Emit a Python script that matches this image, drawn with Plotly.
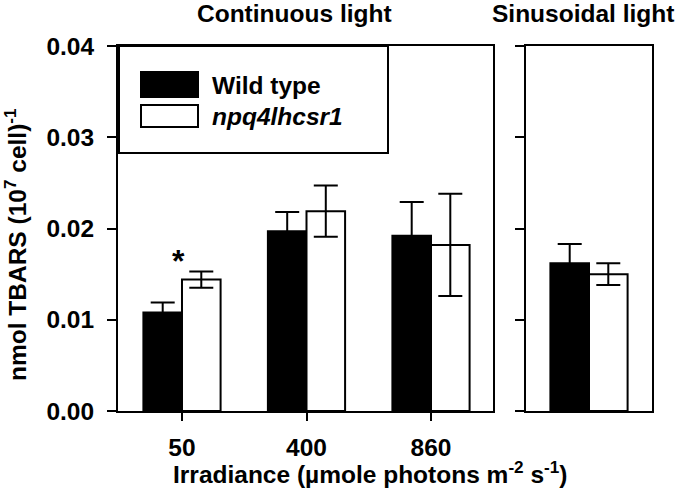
import plotly.graph_objects as go

# ---- data ----
categories = ["50", "400", "860"]
wt_vals = [0.0108, 0.0197, 0.0192]
wt_err = [0.0011, 0.0021, 0.0037]
mut_vals = [0.0144, 0.0219, 0.0182]
mut_err = [0.0009, 0.0028, 0.0056]
sin_wt_vals = [0.0162]
sin_wt_err = [0.0021]
sin_mut_vals = [0.0150]
sin_mut_err = [0.0012]
y_ticks = [0.00, 0.01, 0.02, 0.03, 0.04]
y_ticktext = ["0.00", "0.01", "0.02", "0.03", "0.04"]

W, H = 675, 499
PLOT_TOP, PLOT_BOT = 46, 411
MT = PLOT_TOP
MB = H - PLOT_BOT
PH = PLOT_BOT - PLOT_TOP

def px(x):
    return x / W

def py(y):
    return (PLOT_BOT - y) / PH

FONT = "Liberation Sans"
FS = 24.5
BW = 0.31
xpos = list(range(len(categories)))

fig = go.Figure()

err_style = dict(type="data", color="black", thickness=2, width=12)

fig.add_trace(go.Bar(x=xpos, y=wt_vals, width=BW, offset=-BW,
                     marker=dict(color="black", line=dict(color="black", width=2)),
                     error_y=dict(array=wt_err, **err_style),
                     xaxis="x", yaxis="y", showlegend=False))
fig.add_trace(go.Bar(x=xpos, y=mut_vals, width=BW, offset=0,
                     marker=dict(color="white", line=dict(color="black", width=2)),
                     error_y=dict(array=mut_err, **err_style),
                     xaxis="x", yaxis="y", showlegend=False))
fig.add_trace(go.Bar(x=[0], y=sin_wt_vals, width=BW, offset=-BW,
                     marker=dict(color="black", line=dict(color="black", width=2)),
                     error_y=dict(array=sin_wt_err, **err_style),
                     xaxis="x2", yaxis="y2", showlegend=False))
fig.add_trace(go.Bar(x=[0], y=sin_mut_vals, width=BW, offset=0,
                     marker=dict(color="white", line=dict(color="black", width=2)),
                     error_y=dict(array=sin_mut_err, **err_style),
                     xaxis="x2", yaxis="y2", showlegend=False))

tickfont = dict(family=FONT, size=FS, color="black", weight="bold")

axis_common = dict(showgrid=False, zeroline=False, showline=True, linecolor="black",
                   linewidth=2, mirror=True, ticks="outside", tickwidth=2,
                   tickcolor="black", automargin=False)

fig.update_layout(
    width=W, height=H,
    margin=dict(l=0, r=0, t=MT, b=MB),
    plot_bgcolor="white", paper_bgcolor="white",
    barmode="overlay",
    font=dict(family=FONT, color="black"),
    xaxis=dict(domain=[px(118), px(493)], range=[-0.514, 2.498],
               tickvals=xpos, ticktext=categories, ticklen=8,
               tickfont=tickfont, ticklabelstandoff=6, **axis_common),
    yaxis=dict(domain=[0, 1], range=[0, 0.04], tickvals=y_ticks,
               ticktext=y_ticktext, ticklen=9, tickfont=tickfont,
               ticklabelstandoff=8, anchor="x", **axis_common),
    xaxis2=dict(domain=[px(526), px(652)], range=[-0.506, 0.506],
                showticklabels=False, anchor="y2",
                **{**axis_common, "ticks": ""}),
    yaxis2=dict(domain=[0, 1], range=[0, 0.04], tickvals=y_ticks,
                showticklabels=False, ticklen=9, anchor="x2", **axis_common),
)

# legend box and swatches (layout decoration)
shapes = [
    dict(type="rect", xref="paper", yref="paper", x0=px(119), x1=px(388),
         y0=py(153), y1=py(46), line=dict(color="black", width=2),
         fillcolor="white", layer="above"),
    dict(type="rect", xref="paper", yref="paper", x0=px(141), x1=px(198),
         y0=py(97), y1=py(72), line=dict(color="black", width=2),
         fillcolor="black", layer="above"),
    dict(type="rect", xref="paper", yref="paper", x0=px(141), x1=px(198),
         y0=py(127), y1=py(105), line=dict(color="black", width=2),
         fillcolor="white", layer="above"),
]
fig.update_layout(shapes=shapes)

ann_font = dict(family=FONT, size=FS, color="black", weight="bold")
annotations = [
    dict(text="Wild type", x=px(210), y=py(85), xref="paper", yref="paper",
         xanchor="left", yanchor="middle", showarrow=False, font=ann_font),
    dict(text="<i>npq4lhcsr1</i>", x=px(210), y=py(116), xref="paper", yref="paper",
         xanchor="left", yanchor="middle", showarrow=False, font=ann_font),
    dict(text="Continuous light", x=px(294), y=py(14), xref="paper", yref="paper",
         xanchor="center", yanchor="middle", showarrow=False, font=ann_font),
    dict(text="Sinusoidal light", x=px(583), y=py(14), xref="paper", yref="paper",
         xanchor="center", yanchor="middle", showarrow=False, font=ann_font),
    dict(text="Irradiance (µmole photons m<sup>-2</sup> s<sup>-1</sup>)",
         x=px(370), y=py(472), xref="paper", yref="paper",
         xanchor="center", yanchor="middle", showarrow=False, font=ann_font),
    dict(text="nmol TBARS (10<sup>7</sup> cell)<sup>-1</sup>",
         x=px(15), y=py(245), xref="paper", yref="paper", textangle=-90,
         xanchor="center", yanchor="middle", showarrow=False, font=ann_font),
    dict(text="*", x=-0.025, y=0.0164, xref="x", yref="y",
         xanchor="center", yanchor="middle", showarrow=False,
         font=dict(family=FONT, size=32, color="black", weight="bold")),
]
fig.update_layout(annotations=annotations)

fig.write_html("out.html",
               config={"displayModeBar": False},
               post_script="document.body.style.margin='0';")
